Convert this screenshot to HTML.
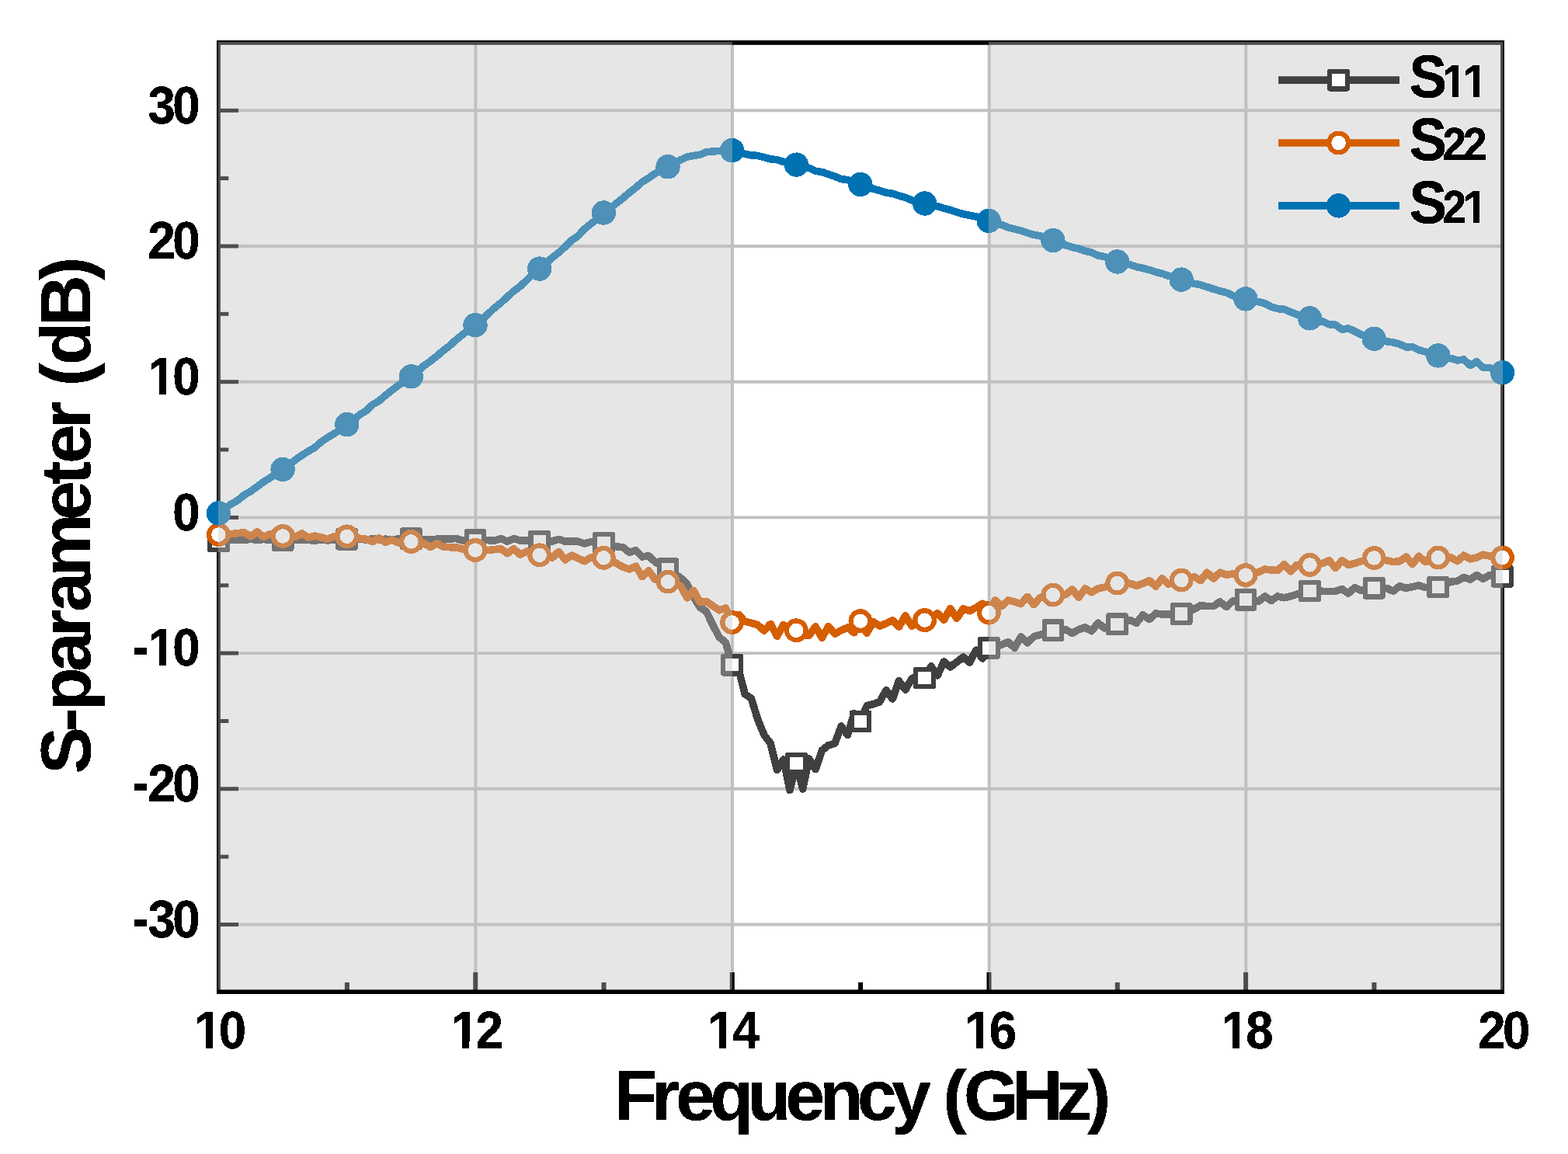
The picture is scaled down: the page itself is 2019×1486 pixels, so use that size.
<!DOCTYPE html>
<html lang="en"><head><meta charset="utf-8"><title>S-parameter (dB) vs Frequency (GHz)</title>
<style>html,body{margin:0;padding:0;background:#fff}body{width:2019px;height:1486px;overflow:hidden}svg{display:block}text{font-family:"Liberation Sans",Arial,Helvetica,sans-serif;font-weight:bold;fill:#000;stroke:#000;stroke-width:0.4px;stroke-linejoin:round;filter:url(#hard)}</style></head><body>
<svg width="2019" height="1486" viewBox="0 0 2019 1486">
<rect width="2019" height="1486" fill="#fff"/>
<defs><filter id="hard" x="-5%" y="-5%" width="110%" height="110%" color-interpolation-filters="sRGB"><feComponentTransfer><feFuncA type="discrete" tableValues="0 1"/></feComponentTransfer></filter></defs>
<g stroke="#c0c0c0" stroke-width="3.9" fill="none">
<line x1="612.4" y1="54.9" x2="612.4" y2="1277.3"/>
<line x1="943.0" y1="54.9" x2="943.0" y2="1277.3"/>
<line x1="1273.7" y1="54.9" x2="1273.7" y2="1277.3"/>
<line x1="1604.3" y1="54.9" x2="1604.3" y2="1277.3"/>
<line x1="281.4" y1="142.3" x2="1934.5" y2="142.3"/>
<line x1="281.4" y1="317.0" x2="1934.5" y2="317.0"/>
<line x1="281.4" y1="491.7" x2="1934.5" y2="491.7"/>
<line x1="281.4" y1="666.4" x2="1934.5" y2="666.4"/>
<line x1="281.4" y1="841.1" x2="1934.5" y2="841.1"/>
<line x1="281.4" y1="1015.8" x2="1934.5" y2="1015.8"/>
<line x1="281.4" y1="1190.5" x2="1934.5" y2="1190.5"/>
</g>
<g fill="#000">
<rect x="279" y="52" width="1658" height="5.8"/>
<rect x="279" y="52" width="4.9" height="1228"/>
<rect x="1932" y="52" width="5" height="1228"/>
<rect x="281" y="1188.0" width="26.0" height="5"/>
<rect x="281" y="1100.7" width="13.3" height="5"/>
<rect x="281" y="1013.3" width="26.0" height="5"/>
<rect x="281" y="926.0" width="13.3" height="5"/>
<rect x="281" y="838.6" width="26.0" height="5"/>
<rect x="281" y="751.3" width="13.3" height="5"/>
<rect x="281" y="663.9" width="26.0" height="5"/>
<rect x="281" y="576.5" width="13.3" height="5"/>
<rect x="281" y="489.2" width="26.0" height="5"/>
<rect x="281" y="401.8" width="13.3" height="5"/>
<rect x="281" y="314.5" width="26.0" height="5"/>
<rect x="281" y="227.1" width="13.3" height="5"/>
<rect x="281" y="139.8" width="26.0" height="5"/>
<rect x="443.9" y="1265" width="6" height="12"/>
<rect x="609.2" y="1252" width="6" height="25"/>
<rect x="774.5" y="1265" width="6" height="12"/>
<rect x="939.8" y="1252" width="6" height="25"/>
<rect x="1105.1" y="1265" width="6" height="12"/>
<rect x="1270.5" y="1252" width="6" height="25"/>
<rect x="1435.8" y="1265" width="6" height="12"/>
<rect x="1601.1" y="1252" width="6" height="25"/>
<rect x="1766.4" y="1265" width="6" height="12"/>
</g>
<g stroke="#404040" fill="none" stroke-linejoin="round" stroke-linecap="butt" shape-rendering="crispEdges">
<path stroke-width="9.6" d="M281.4 697.0 L289.7 696.1 L297.9 695.1 L306.2 694.8 L314.5 695.7 L322.7 694.2 L331.0 695.3 L339.3 694.6 L347.5 695.1 L355.8 695.5 L364.1 695.7 L372.3 695.1 L380.6 695.7 L388.9 694.8 L397.1 695.5 L405.4 696.1 L413.6 695.1 L421.9 695.9 L430.2 695.0 L438.4 694.6 L446.7 694.2 L455.0 694.8 L463.2 694.2 L471.5 695.1 L479.8 693.8 L488.0 694.8 L496.3 694.2 L504.6 695.0 L512.8 694.0 L521.1 693.8 L529.4 693.6 L537.6 694.2 L545.9 694.6 L554.2 695.1 L562.4 694.2 L570.7 693.8 L579.0 694.2 L587.2 693.4 L595.5 696.1 L603.8 695.7 L612.0 695.7 L620.3 695.4 L628.6 695.7 L636.8 696.1 L645.1 693.5 L653.3 697.2 L661.6 693.5 L669.9 696.1 L678.1 695.7 L686.4 696.3 L694.7 697.1 L702.9 697.2 L711.2 696.9 L719.5 694.4 L727.7 697.2 L736.0 697.2 L744.3 697.2 L752.5 700.1 L760.8 697.6 L769.1 698.2 L777.3 698.9 L785.6 702.0 L793.9 703.8 L802.1 704.8 L810.4 711.4 L818.7 708.5 L826.9 717.0 L835.2 715.7 L843.5 723.6 L851.7 728.3 L860.0 732.8 L868.3 738.7 L876.5 744.3 L884.8 751.9 L893.0 768.8 L901.3 782.0 L909.6 787.7 L917.8 804.6 L926.1 820.6 L934.4 827.2 L942.6 856.2 L950.9 861.2 L959.2 893.8 L967.4 899.4 L975.7 926.4 L984.0 946.5 L992.2 957.4 L1000.5 991.7 L1008.8 978.0 L1017.0 1017.5 L1025.3 983.0 L1033.6 1016.0 L1041.8 977.0 L1050.1 990.7 L1058.4 966.3 L1066.6 959.8 L1074.9 957.4 L1083.2 935.1 L1091.4 946.5 L1099.7 918.7 L1107.9 929.1 L1116.2 908.7 L1124.5 906.7 L1132.7 903.7 L1141.0 888.7 L1149.3 900.0 L1157.5 876.8 L1165.8 888.1 L1174.1 874.0 L1182.3 869.1 L1190.6 872.9 L1198.9 858.0 L1207.1 869.8 L1215.4 852.0 L1223.7 858.9 L1231.9 852.7 L1240.2 846.1 L1248.5 852.9 L1256.7 837.2 L1265.0 848.0 L1273.3 834.3 L1281.5 832.3 L1289.8 830.3 L1298.1 826.7 L1306.3 834.3 L1314.6 820.1 L1322.9 827.7 L1331.1 819.8 L1339.4 817.3 L1347.6 814.5 L1355.9 811.7 L1364.2 811.2 L1372.4 810.7 L1380.7 815.4 L1389.0 810.7 L1397.2 807.9 L1405.5 812.6 L1413.8 802.2 L1422.0 808.8 L1430.3 806.3 L1438.6 803.7 L1446.8 801.1 L1455.1 798.5 L1463.4 802.2 L1471.6 791.9 L1479.9 797.5 L1488.2 790.0 L1496.4 790.9 L1504.7 790.9 L1513.0 790.7 L1521.2 790.4 L1529.5 787.4 L1537.8 784.3 L1546.0 779.6 L1554.3 780.6 L1562.6 780.6 L1570.8 774.9 L1579.1 781.5 L1587.3 774.0 L1595.6 773.1 L1603.9 772.2 L1612.1 773.4 L1620.4 774.5 L1628.7 767.9 L1636.9 773.5 L1645.2 767.9 L1653.5 769.8 L1661.7 767.9 L1670.0 765.1 L1678.3 763.0 L1686.5 760.9 L1694.8 761.1 L1703.1 761.3 L1711.3 761.3 L1719.6 761.3 L1727.9 758.5 L1736.1 764.1 L1744.4 756.6 L1752.7 760.4 L1760.9 758.8 L1769.2 757.2 L1777.5 757.3 L1785.7 757.5 L1794.0 761.3 L1802.3 754.7 L1810.5 757.5 L1818.8 755.6 L1827.0 753.8 L1835.3 756.6 L1843.6 756.3 L1851.8 756.0 L1860.1 752.5 L1868.4 749.1 L1876.6 748.1 L1884.9 743.4 L1893.2 746.2 L1901.4 740.6 L1909.7 745.3 L1918.0 740.6 L1926.2 741.5 L1934.5 742.5"/>
</g>
<g stroke="#404040" stroke-width="6.2" shape-rendering="crispEdges">
<rect x="270.1" y="685.7" width="22.6" height="22.6" fill="#fff" stroke-linejoin="round"/>
<rect x="352.8" y="684.4" width="22.6" height="22.6" fill="#fff" stroke-linejoin="round"/>
<rect x="435.4" y="682.9" width="22.6" height="22.6" fill="#fff" stroke-linejoin="round"/>
<rect x="518.1" y="682.3" width="22.6" height="22.6" fill="#fff" stroke-linejoin="round"/>
<rect x="600.7" y="684.4" width="22.6" height="22.6" fill="#fff" stroke-linejoin="round"/>
<rect x="683.4" y="685.8" width="22.6" height="22.6" fill="#fff" stroke-linejoin="round"/>
<rect x="766.0" y="687.6" width="22.6" height="22.6" fill="#fff" stroke-linejoin="round"/>
<rect x="848.7" y="721.5" width="22.6" height="22.6" fill="#fff" stroke-linejoin="round"/>
<rect x="931.3" y="844.9" width="22.6" height="22.6" fill="#fff" stroke-linejoin="round"/>
<rect x="1014.0" y="971.7" width="22.6" height="22.6" fill="#fff" stroke-linejoin="round"/>
<rect x="1096.6" y="917.8" width="22.6" height="22.6" fill="#fff" stroke-linejoin="round"/>
<rect x="1179.3" y="861.6" width="22.6" height="22.6" fill="#fff" stroke-linejoin="round"/>
<rect x="1262.0" y="823.0" width="22.6" height="22.6" fill="#fff" stroke-linejoin="round"/>
<rect x="1344.6" y="800.4" width="22.6" height="22.6" fill="#fff" stroke-linejoin="round"/>
<rect x="1427.3" y="792.4" width="22.6" height="22.6" fill="#fff" stroke-linejoin="round"/>
<rect x="1509.9" y="779.1" width="22.6" height="22.6" fill="#fff" stroke-linejoin="round"/>
<rect x="1592.6" y="760.9" width="22.6" height="22.6" fill="#fff" stroke-linejoin="round"/>
<rect x="1675.2" y="749.6" width="22.6" height="22.6" fill="#fff" stroke-linejoin="round"/>
<rect x="1757.9" y="745.9" width="22.6" height="22.6" fill="#fff" stroke-linejoin="round"/>
<rect x="1840.5" y="744.7" width="22.6" height="22.6" fill="#fff" stroke-linejoin="round"/>
<rect x="1923.2" y="731.2" width="22.6" height="22.6" fill="#fff" stroke-linejoin="round"/>
</g>
<g stroke="#d55e00" fill="none" stroke-linejoin="round" stroke-linecap="butt" shape-rendering="crispEdges">
<path stroke-width="9.6" d="M281.4 688.5 L289.7 688.5 L297.9 687.6 L306.2 686.7 L314.5 685.7 L322.7 690.8 L331.0 684.8 L339.3 691.4 L347.5 687.6 L355.8 689.5 L364.1 690.4 L372.3 690.4 L380.6 691.4 L388.9 687.0 L397.1 692.3 L405.4 690.1 L413.6 691.9 L421.9 694.2 L430.2 690.8 L438.4 690.4 L446.7 690.8 L455.0 692.3 L463.2 693.3 L471.5 694.2 L479.8 697.6 L488.0 692.7 L496.3 698.3 L504.6 695.1 L512.8 698.9 L521.1 698.0 L529.4 697.4 L537.6 698.0 L545.9 699.8 L554.2 704.6 L562.4 699.8 L570.7 704.0 L579.0 704.7 L587.2 704.7 L595.5 707.0 L603.8 708.3 L612.0 708.5 L620.3 708.5 L628.6 708.5 L636.8 707.6 L645.1 706.7 L653.3 712.7 L661.6 706.7 L669.9 714.2 L678.1 710.1 L686.4 712.3 L694.7 714.8 L702.9 717.0 L711.2 718.0 L719.5 710.4 L727.7 720.8 L736.0 715.1 L744.3 718.9 L752.5 722.7 L760.8 718.0 L769.1 718.0 L777.3 718.3 L785.6 721.7 L793.9 725.5 L802.1 730.2 L810.4 733.0 L818.7 729.3 L826.9 742.5 L835.2 734.9 L843.5 746.2 L851.7 748.1 L860.0 749.1 L868.3 751.9 L876.5 754.7 L884.8 769.8 L893.0 760.4 L901.3 775.4 L909.6 774.5 L917.8 780.1 L926.1 785.8 L934.4 783.0 L942.6 801.5 L950.9 791.3 L959.2 800.2 L967.4 802.2 L975.7 804.7 L984.0 812.1 L992.2 803.5 L1000.5 819.2 L1008.8 804.5 L1017.0 813.6 L1025.3 811.8 L1033.6 817.5 L1041.8 818.5 L1050.1 806.8 L1058.4 821.3 L1066.6 806.7 L1074.9 816.1 L1083.2 811.6 L1091.4 808.1 L1099.7 814.8 L1107.9 799.7 L1116.2 815.1 L1124.5 800.7 L1132.7 806.2 L1141.0 802.7 L1149.3 798.9 L1157.5 807.1 L1165.8 792.8 L1174.1 806.2 L1182.3 797.7 L1190.6 798.6 L1198.9 795.8 L1207.1 789.8 L1215.4 798.2 L1223.7 783.4 L1231.9 796.3 L1240.2 783.9 L1248.5 786.8 L1256.7 782.4 L1265.0 777.4 L1273.3 789.1 L1281.5 773.0 L1289.8 780.6 L1298.1 773.0 L1306.3 774.9 L1314.6 777.7 L1322.9 768.3 L1331.1 778.7 L1339.4 769.3 L1347.6 767.7 L1355.9 766.1 L1364.2 767.4 L1372.4 765.5 L1380.7 758.9 L1389.0 769.3 L1397.2 758.0 L1405.5 762.7 L1413.8 758.0 L1422.0 756.1 L1430.3 753.5 L1438.6 751.0 L1446.8 750.4 L1455.1 751.4 L1463.4 754.2 L1471.6 751.4 L1479.9 747.6 L1488.2 755.1 L1496.4 744.8 L1504.7 752.3 L1513.0 749.7 L1521.2 747.0 L1529.5 744.8 L1537.8 742.9 L1546.0 747.6 L1554.3 737.2 L1562.6 744.8 L1570.8 737.2 L1579.1 740.1 L1587.3 739.1 L1595.6 739.8 L1603.9 740.6 L1612.1 738.7 L1620.4 736.8 L1628.7 733.0 L1636.9 734.0 L1645.2 734.5 L1653.5 726.4 L1661.7 735.9 L1670.0 727.4 L1678.3 727.4 L1686.5 727.4 L1694.8 726.4 L1703.1 725.5 L1711.3 721.7 L1719.6 731.2 L1727.9 721.7 L1736.1 727.4 L1744.4 725.5 L1752.7 722.7 L1760.9 720.6 L1769.2 718.5 L1777.5 720.1 L1785.7 721.7 L1794.0 723.6 L1802.3 722.7 L1810.5 717.0 L1818.8 726.4 L1827.0 716.1 L1835.3 723.6 L1843.6 720.8 L1851.8 718.0 L1860.1 718.0 L1868.4 718.0 L1876.6 722.7 L1884.9 715.1 L1893.2 719.8 L1901.4 718.0 L1909.7 714.2 L1918.0 716.1 L1926.2 717.0 L1934.5 718.0"/>
</g>
<g stroke="#d55e00" stroke-width="6.2" shape-rendering="crispEdges">
<circle cx="281.4" cy="688.5" r="12.35" fill="#fff"/>
<circle cx="364.1" cy="690.4" r="12.35" fill="#fff"/>
<circle cx="446.7" cy="690.8" r="12.35" fill="#fff"/>
<circle cx="529.4" cy="697.4" r="12.35" fill="#fff"/>
<circle cx="612.0" cy="708.5" r="12.35" fill="#fff"/>
<circle cx="694.7" cy="714.8" r="12.35" fill="#fff"/>
<circle cx="777.3" cy="718.3" r="12.35" fill="#fff"/>
<circle cx="860.0" cy="749.1" r="12.35" fill="#fff"/>
<circle cx="942.6" cy="801.5" r="12.35" fill="#fff"/>
<circle cx="1025.3" cy="811.8" r="12.35" fill="#fff"/>
<circle cx="1107.9" cy="799.7" r="12.35" fill="#fff"/>
<circle cx="1190.6" cy="798.6" r="12.35" fill="#fff"/>
<circle cx="1273.3" cy="789.1" r="12.35" fill="#fff"/>
<circle cx="1355.9" cy="766.1" r="12.35" fill="#fff"/>
<circle cx="1438.6" cy="751.0" r="12.35" fill="#fff"/>
<circle cx="1521.2" cy="747.0" r="12.35" fill="#fff"/>
<circle cx="1603.9" cy="740.6" r="12.35" fill="#fff"/>
<circle cx="1686.5" cy="727.4" r="12.35" fill="#fff"/>
<circle cx="1769.2" cy="718.5" r="12.35" fill="#fff"/>
<circle cx="1851.8" cy="718.0" r="12.35" fill="#fff"/>
<circle cx="1934.5" cy="718.0" r="12.35" fill="#fff"/>
</g>
<g stroke="#0072b2" fill="none" stroke-linejoin="round" stroke-linecap="butt" shape-rendering="crispEdges">
<path stroke-width="9.6" d="M281.4 660.9 L289.7 654.9 L297.9 648.9 L306.2 644.3 L314.5 637.4 L322.7 632.7 L331.0 626.7 L339.3 620.5 L347.5 615.7 L355.8 609.1 L364.1 604.4 L372.3 598.5 L380.6 592.0 L388.9 586.2 L397.1 581.1 L405.4 576.2 L413.6 569.0 L421.9 563.4 L430.2 558.4 L438.4 553.3 L446.7 546.6 L455.0 540.6 L463.2 534.0 L471.5 529.0 L479.8 521.0 L488.0 516.4 L496.3 509.1 L504.6 502.6 L512.8 496.4 L521.1 490.6 L529.4 484.8 L537.6 478.8 L545.9 470.9 L554.2 465.1 L562.4 458.6 L570.7 451.5 L579.0 445.2 L587.2 437.7 L595.5 431.0 L603.8 424.7 L612.0 418.7 L620.3 411.8 L628.6 404.0 L636.8 396.5 L645.1 389.8 L653.3 382.3 L661.6 374.7 L669.9 368.5 L678.1 361.0 L686.4 352.8 L694.7 346.1 L702.9 339.0 L711.2 331.7 L719.5 325.2 L727.7 317.7 L736.0 309.6 L744.3 303.8 L752.5 294.9 L760.8 288.3 L769.1 281.7 L777.3 274.0 L785.6 268.3 L793.9 261.6 L802.1 255.2 L810.4 248.0 L818.7 241.6 L826.9 234.4 L835.2 229.2 L843.5 223.5 L851.7 219.0 L860.0 214.8 L868.3 210.5 L876.5 205.8 L884.8 202.0 L893.0 200.5 L901.3 199.2 L909.6 195.8 L917.8 194.9 L926.1 194.5 L934.4 194.1 L942.6 193.6 L950.9 195.7 L959.2 198.2 L967.4 199.8 L975.7 200.5 L984.0 202.6 L992.2 205.0 L1000.5 205.6 L1008.8 208.3 L1017.0 209.6 L1025.3 212.1 L1033.6 213.9 L1041.8 216.3 L1050.1 220.3 L1058.4 221.5 L1066.6 224.3 L1074.9 227.1 L1083.2 230.6 L1091.4 231.6 L1099.7 234.9 L1107.9 237.5 L1116.2 240.0 L1124.5 243.2 L1132.7 245.5 L1141.0 248.0 L1149.3 249.3 L1157.5 252.0 L1165.8 254.4 L1174.1 257.9 L1182.3 260.5 L1190.6 262.0 L1198.9 263.5 L1207.1 265.8 L1215.4 268.2 L1223.7 270.4 L1231.9 273.2 L1240.2 275.6 L1248.5 277.2 L1256.7 278.9 L1265.0 282.0 L1273.3 284.4 L1281.5 286.7 L1289.8 289.6 L1298.1 292.9 L1306.3 294.9 L1314.6 297.0 L1322.9 299.8 L1331.1 302.4 L1339.4 303.7 L1347.6 307.9 L1355.9 309.6 L1364.2 312.9 L1372.4 315.8 L1380.7 318.4 L1389.0 320.3 L1397.2 323.1 L1405.5 325.2 L1413.8 329.0 L1422.0 330.6 L1430.3 333.4 L1438.6 337.0 L1446.8 338.7 L1455.1 340.9 L1463.4 343.6 L1471.6 345.3 L1479.9 347.6 L1488.2 350.2 L1496.4 352.4 L1504.7 355.2 L1513.0 356.8 L1521.2 360.1 L1529.5 363.3 L1537.8 365.3 L1546.0 366.8 L1554.3 369.5 L1562.6 372.2 L1570.8 374.7 L1579.1 376.7 L1587.3 380.6 L1595.6 383.4 L1603.9 384.9 L1612.1 387.3 L1620.4 388.5 L1628.7 390.8 L1636.9 395.1 L1645.2 397.6 L1653.5 398.3 L1661.7 401.7 L1670.0 405.1 L1678.3 406.4 L1686.5 409.8 L1694.8 413.3 L1703.1 414.0 L1711.3 417.7 L1719.6 418.3 L1727.9 424.3 L1736.1 422.8 L1744.4 426.6 L1752.7 430.9 L1760.9 434.0 L1769.2 436.2 L1777.5 437.9 L1785.7 439.8 L1794.0 440.9 L1802.3 443.2 L1810.5 446.9 L1818.8 446.6 L1827.0 450.7 L1835.3 453.0 L1843.6 456.4 L1851.8 457.9 L1860.1 461.1 L1868.4 461.6 L1876.6 463.9 L1884.9 463.0 L1893.2 470.5 L1901.4 465.8 L1909.7 473.3 L1918.0 473.3 L1926.2 476.8 L1934.5 479.9"/>
</g>
<g stroke="#0072b2" stroke-width="6.2" shape-rendering="crispEdges">
<circle cx="281.4" cy="660.9" r="12.6" fill="#0072b2"/>
<circle cx="364.1" cy="604.4" r="12.6" fill="#0072b2"/>
<circle cx="446.7" cy="546.6" r="12.6" fill="#0072b2"/>
<circle cx="529.4" cy="484.8" r="12.6" fill="#0072b2"/>
<circle cx="612.0" cy="418.7" r="12.6" fill="#0072b2"/>
<circle cx="694.7" cy="346.1" r="12.6" fill="#0072b2"/>
<circle cx="777.3" cy="274.0" r="12.6" fill="#0072b2"/>
<circle cx="860.0" cy="214.8" r="12.6" fill="#0072b2"/>
<circle cx="942.6" cy="193.6" r="12.6" fill="#0072b2"/>
<circle cx="1025.3" cy="212.1" r="12.6" fill="#0072b2"/>
<circle cx="1107.9" cy="237.5" r="12.6" fill="#0072b2"/>
<circle cx="1190.6" cy="262.0" r="12.6" fill="#0072b2"/>
<circle cx="1273.3" cy="284.4" r="12.6" fill="#0072b2"/>
<circle cx="1355.9" cy="309.6" r="12.6" fill="#0072b2"/>
<circle cx="1438.6" cy="337.0" r="12.6" fill="#0072b2"/>
<circle cx="1521.2" cy="360.1" r="12.6" fill="#0072b2"/>
<circle cx="1603.9" cy="384.9" r="12.6" fill="#0072b2"/>
<circle cx="1686.5" cy="409.8" r="12.6" fill="#0072b2"/>
<circle cx="1769.2" cy="436.2" r="12.6" fill="#0072b2"/>
<circle cx="1851.8" cy="457.9" r="12.6" fill="#0072b2"/>
<circle cx="1934.5" cy="479.9" r="12.6" fill="#0072b2"/>
</g>
<g fill="#c0c0c0" fill-opacity="0.4">
<rect x="281" y="53.9" width="661.9" height="1220.7"/>
<rect x="1273" y="53.9" width="662.0" height="1220.7"/>
</g>
<rect x="279" y="1274.4" width="1658" height="5.6" fill="#000"/>
<line x1="1646.1" y1="103.1" x2="1802.0" y2="103.1" stroke="#404040" stroke-width="9.6"/>
<g stroke="#404040" stroke-width="6.2" shape-rendering="crispEdges"><rect x="1712.3" y="91.8" width="22.6" height="22.6" fill="#fff" stroke-linejoin="round"/></g>
<clipPath id="c1"><path clip-rule="evenodd" d="M-3000 -3000H3000V3000H-3000ZM1927.461 -6.952H1937.824V2.571H1927.461ZM1946.114 -6.952H1965.803V2.571H1946.114ZM1974.093 -6.952H1983.420V2.571H1974.093Z"/></clipPath>
<text transform="translate(0 125.3) scale(0.965 1.050)" clip-path="url(#c1)" y="0"><tspan font-size="75" x="1880.7">S</tspan><tspan font-size="57.0" x="1924.8 1952.3">11</tspan></text>
<line x1="1646.1" y1="184.0" x2="1802.0" y2="184.0" stroke="#d55e00" stroke-width="9.6"/>
<g stroke="#d55e00" stroke-width="6.2" shape-rendering="crispEdges"><circle cx="1723.6" cy="184.0" r="12.35" fill="#fff"/></g>
<text transform="translate(0 206.2) scale(0.965 1.050)" y="0"><tspan font-size="75" x="1880.7">S</tspan><tspan font-size="57.0" x="1924.8 1952.3">22</tspan></text>
<line x1="1646.1" y1="264.9" x2="1802.0" y2="264.9" stroke="#0072b2" stroke-width="9.6"/>
<g stroke="#0072b2" stroke-width="6.2" shape-rendering="crispEdges"><circle cx="1723.6" cy="264.9" r="12.6" fill="#0072b2"/></g>
<clipPath id="c2"><path clip-rule="evenodd" d="M-3000 -3000H3000V3000H-3000ZM1954.404 -6.762H1965.803V2.762H1954.404ZM1974.093 -6.762H1983.420V2.762H1974.093Z"/></clipPath>
<text transform="translate(0 287.1) scale(0.965 1.050)" clip-path="url(#c2)" y="0"><tspan font-size="75" x="1880.7">S</tspan><tspan font-size="57.0" x="1924.8 1952.3">21</tspan></text>
<clipPath id="c3"><path clip-rule="evenodd" d="M-3000 -3000H3000V3000H-3000ZM264.921 -8.406H277.487V2.222H264.921ZM286.911 -8.406H298.429V2.222H286.911Z"/></clipPath><text transform="translate(0 1349.7) scale(0.955 1.035)" clip-path="url(#c3)" font-size="66.5" x="261.89 295.08" y="0">10</text>
<clipPath id="c4"><path clip-rule="evenodd" d="M-3000 -3000H3000V3000H-3000ZM611.518 -8.406H623.037V2.222H611.518ZM632.461 -8.406H643.979V2.222H632.461Z"/></clipPath><text transform="translate(0 1349.7) scale(0.955 1.035)" clip-path="url(#c4)" font-size="66.5" x="608.09 641.28" y="0">12</text>
<clipPath id="c5"><path clip-rule="evenodd" d="M-3000 -3000H3000V3000H-3000ZM957.068 -8.406H969.634V2.222H957.068ZM979.058 -8.406H990.576V2.222H979.058Z"/></clipPath><text transform="translate(0 1349.7) scale(0.955 1.035)" clip-path="url(#c5)" font-size="66.5" x="954.29 987.48" y="0">14</text>
<clipPath id="c6"><path clip-rule="evenodd" d="M-3000 -3000H3000V3000H-3000ZM1303.665 -8.406H1316.230V2.222H1303.665ZM1325.654 -8.406H1337.173V2.222H1325.654Z"/></clipPath><text transform="translate(0 1349.7) scale(0.955 1.035)" clip-path="url(#c6)" font-size="66.5" x="1300.49 1333.68" y="0">16</text>
<clipPath id="c7"><path clip-rule="evenodd" d="M-3000 -3000H3000V3000H-3000ZM1649.215 -8.406H1661.780V2.222H1649.215ZM1671.204 -8.406H1682.723V2.222H1671.204Z"/></clipPath><text transform="translate(0 1349.7) scale(0.955 1.035)" clip-path="url(#c7)" font-size="66.5" x="1646.69 1679.87" y="0">18</text>
<text transform="translate(0 1349.7) scale(0.955 1.035)" font-size="66.5" x="1992.88 2026.07" y="0">20</text>
<text transform="translate(0 1206.7) scale(0.955 1.035)" font-size="66.5" x="178.46 199.49 232.67" y="0">-30</text>
<text transform="translate(0 1032.0) scale(0.955 1.035)" font-size="66.5" x="178.46 199.49 232.67" y="0">-20</text>
<clipPath id="c8"><path clip-rule="evenodd" d="M-3000 -3000H3000V3000H-3000ZM202.094 -8.029H214.660V2.599H202.094ZM224.084 -8.029H235.602V2.599H224.084Z"/></clipPath><text transform="translate(0 857.3) scale(0.955 1.035)" clip-path="url(#c8)" font-size="66.5" x="178.46 199.49 232.67" y="0">-10</text>
<text transform="translate(0 682.6) scale(0.955 1.035)" font-size="66.5" x="232.67" y="0">0</text>
<clipPath id="c9"><path clip-rule="evenodd" d="M-3000 -3000H3000V3000H-3000ZM202.094 -7.623H214.660V2.039H202.094ZM224.084 -7.623H235.602V2.039H224.084Z"/></clipPath><text transform="translate(0 507.9) scale(0.955 1.035)" clip-path="url(#c9)" font-size="66.5" x="199.49 232.67" y="0">10</text>
<text transform="translate(0 333.2) scale(0.955 1.035)" font-size="66.5" x="199.49 232.67" y="0">20</text>
<text transform="translate(0 158.5) scale(0.955 1.035)" font-size="66.5" x="199.49 232.67" y="0">30</text>
<text transform="translate(0 1442.0)" font-size="91.0" x="790.70 839.23 870.14 914.33 962.85 1011.38 1055.56 1104.09 1148.27 1192.45 1214.53 1240.98 1302.77 1360.14 1399.87" y="0">Frequency (GHz)</text>
<text transform="translate(116.0 996.7) rotate(-90)" font-size="91.0" x="0.00 54.51 81.72 131.63 177.08 208.88 254.33 326.99 372.44 399.65 445.10 476.90 499.61 526.82 576.73 635.75" y="0">S-parameter (dB)</text>
</svg></body></html>
